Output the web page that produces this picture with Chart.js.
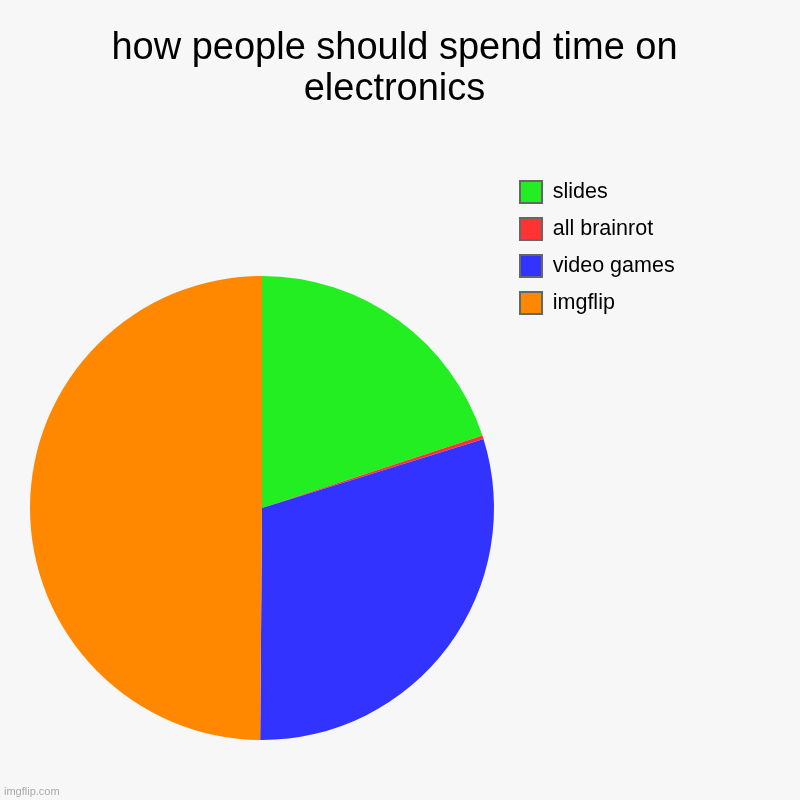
<!DOCTYPE html>
<html>
<head>
<meta charset="utf-8">
<script src="https://cdn.jsdelivr.net/npm/chart.js@4/dist/chart.umd.min.js"></script>
<style>
  html, body { margin: 0; padding: 0; background: #f7f7f7; }
  #wrap { width: 800px; height: 800px; }
</style>
</head>
<body>
<div id="wrap"><canvas id="myChart" width="800" height="800"></canvas></div>
<script>
const labels = ['slides', 'all brainrot', 'video games', 'imgflip'];
const values = [20, 0.25, 30, 50];
const colors = ['#22ee22', '#ff3333', '#3333ff', '#ff8800'];
const titleLines = ['how people should spend time on', 'electronics'];

// imgflip-style layout: pie at left, legend pulled up to the top right
const placement = {
    id: 'placement',
    afterLayout(chart) {
        chart.chartArea = { left: 30, top: 276, right: 494, bottom: 740, width: 464, height: 464 };
        const lg = chart.legend;
        const dx = 505 - lg.left;
        const dy = 166 - lg.top;
        lg.left += dx; lg.right += dx;
        lg.top += dy; lg.bottom += dy;
    },
    afterDraw(chart) {
        const ctx = chart.ctx;
        ctx.save();
        ctx.font = '11px "Liberation Sans", Arial, sans-serif';
        ctx.fillStyle = '#aaaaaa';
        ctx.textBaseline = 'alphabetic';
        ctx.fillText('imgflip.com', 4, 795);
        ctx.restore();
    }
};

const ctx = document.getElementById('myChart').getContext('2d');
new Chart(ctx, {
    type: 'pie',
    data: {
        labels: labels,
        datasets: [{
            data: values,
            backgroundColor: colors,
            borderWidth: 0,
        }],
    },
    options: {
        responsive: false,
        animation: false,
        devicePixelRatio: 1,
        layout: { padding: { left: 0, right: 11, top: 0, bottom: 0 } },
        plugins: {
            tooltip: { enabled: false },
            title: {
                display: true,
                text: titleLines,
                color: '#000000',
                font: { family: '"Liberation Sans", Arial, sans-serif', size: 38, weight: 'normal', lineHeight: 1.08 },
                padding: { top: 28, bottom: 0 },
            },
            legend: {
                position: 'right',
                align: 'start',
                labels: {
                    boxWidth: 22,
                    boxHeight: 22,
                    padding: 15,
                    color: '#111111',
                    font: { family: '"Liberation Sans", Arial, sans-serif', size: 21.5 },
                    generateLabels: function (chart) {
                        return labels.map((text, i) => ({
                            text: text,
                            fillStyle: colors[i],
                            strokeStyle: '#666666',
                            lineWidth: 2,
                            hidden: false,
                            index: i,
                        }));
                    }
                }
            }
        }
    },
    plugins: [placement]
});
</script>
</body>
</html>
